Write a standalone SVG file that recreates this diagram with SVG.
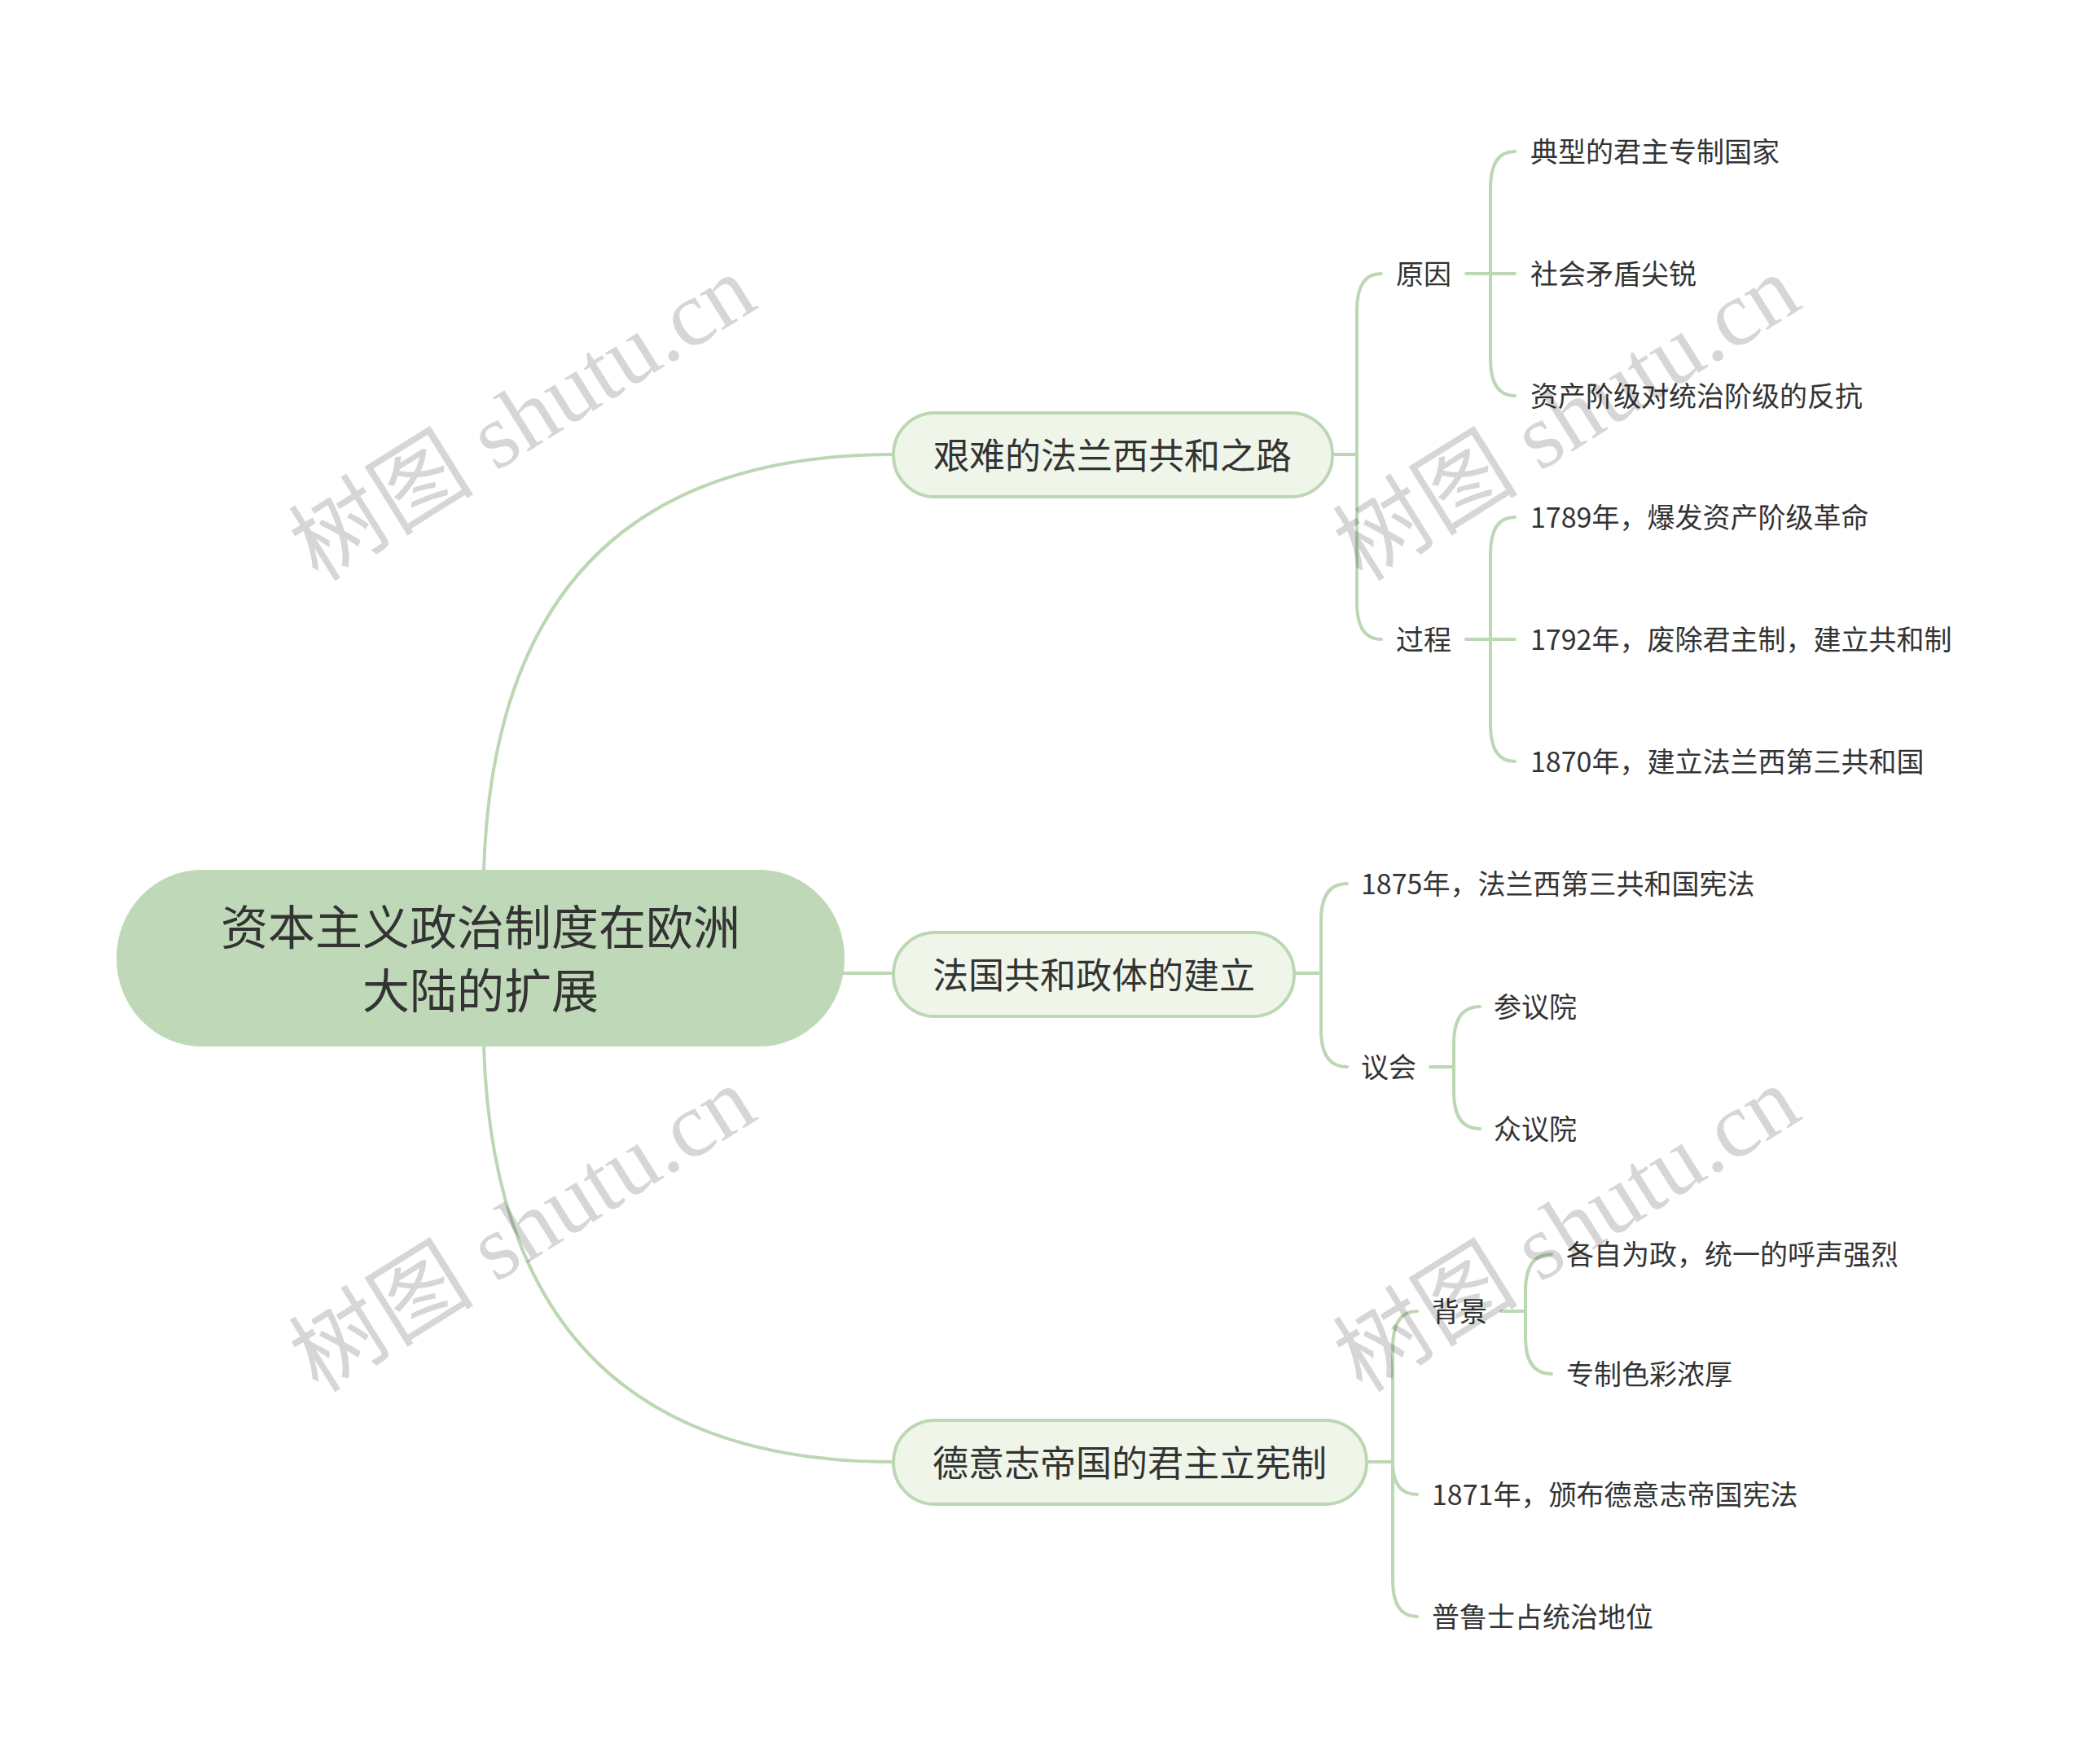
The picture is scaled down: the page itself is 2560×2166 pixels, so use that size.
<svg xmlns="http://www.w3.org/2000/svg" width="2560" height="2166" viewBox="0 0 2560 2166">
<style>
text{font-family:"Noto Sans CJK SC","Noto Sans",sans-serif;fill:#333;dominant-baseline:central}
.root{font-size:58px}
.br{font-size:44px;text-anchor:middle}
.lf{font-size:34px}
.ln{fill:none;stroke:#bcd7b3;stroke-width:4;stroke-linecap:round}
.box{fill:#eff6e9;stroke:#bcd7b3;stroke-width:4}
.wm{font-family:"Liberation Serif","Noto Sans CJK SC",serif;font-size:114px;fill:#000;fill-opacity:0.16;dominant-baseline:alphabetic}
</style>
<rect width="2560" height="2166" fill="#fff"/>
<g id="connectors">
<path class="ln" d="M594,1069 Q610,558 1097,558"/>
<path class="ln" d="M594,1285 Q610,1795 1097,1795"/>
<path class="ln" d="M900,1195 H1097"/>
<path class="ln" d="M1636,558 H1666 M1666,558 V381 Q1666,336 1696,336 M1666,558 V740 Q1666,785 1696,785"/>
<path class="ln" d="M1800,336 H1860 M1830,336 V231 Q1830,186 1860,186 M1830,336 V441 Q1830,486 1860,486"/>
<path class="ln" d="M1800,785 H1860 M1830,785 V680 Q1830,635 1860,635 M1830,785 V890 Q1830,935 1860,935"/>
<path class="ln" d="M1589,1195 H1622 M1622,1195 V1130 Q1622,1085 1654,1085 M1622,1195 V1265 Q1622,1310 1654,1310"/>
<path class="ln" d="M1756,1310 H1785 M1785,1310 V1281 Q1785,1236 1817,1236 M1785,1310 V1341 Q1785,1386 1817,1386"/>
<path class="ln" d="M1678,1795 H1710 M1710,1795 V1655 Q1710,1610 1740,1610 M1710,1795 Q1710,1835 1740,1835 M1710,1795 V1940 Q1710,1985 1740,1985"/>
<path class="ln" d="M1843,1610 H1873 M1873,1610 V1585 Q1873,1540 1905,1540 M1873,1610 V1642 Q1873,1687 1905,1687"/>
</g>
<g id="root">
<rect x="143" y="1068" width="894" height="217" rx="105" ry="108" fill="#bfd9b8"/>
<text class="root" x="590" y="1135" text-anchor="middle">资本主义政治制度在欧洲</text>
<text class="root" x="590" y="1213" text-anchor="middle">大陆的扩展</text>
</g>
<g id="b1">
<rect class="box" x="1097" y="507" width="539" height="103" rx="51"/>
<text class="br" x="1366" y="557">艰难的法兰西共和之路</text>
</g>
<g id="b2">
<rect class="box" x="1097" y="1145" width="492" height="103" rx="51"/>
<text class="br" x="1343" y="1195">法国共和政体的建立</text>
</g>
<g id="b3">
<rect class="box" x="1097" y="1744" width="581" height="103" rx="51"/>
<text class="br" x="1387" y="1794">德意志帝国的君主立宪制</text>
</g>
<g id="n-yuanyin"><text class="lf" x="1714" y="334">原因</text></g>
<g id="n-c1"><text class="lf" x="1879" y="184">典型的君主专制国家</text></g>
<g id="n-c2"><text class="lf" x="1879" y="334">社会矛盾尖锐</text></g>
<g id="n-c3"><text class="lf" x="1879" y="484">资产阶级对统治阶级的反抗</text></g>
<g id="n-guocheng"><text class="lf" x="1714" y="783">过程</text></g>
<g id="n-p1"><text class="lf" x="1879" y="633">1789年，爆发资产阶级革命</text></g>
<g id="n-p2"><text class="lf" x="1879" y="783">1792年，废除君主制，建立共和制</text></g>
<g id="n-p3"><text class="lf" x="1879" y="933">1870年，建立法兰西第三共和国</text></g>
<g id="n-1875"><text class="lf" x="1671" y="1083">1875年，法兰西第三共和国宪法</text></g>
<g id="n-yihui"><text class="lf" x="1671" y="1308">议会</text></g>
<g id="n-cyy"><text class="lf" x="1834" y="1234">参议院</text></g>
<g id="n-zyy"><text class="lf" x="1834" y="1384">众议院</text></g>
<g id="n-beijing"><text class="lf" x="1758" y="1608">背景</text></g>
<g id="n-bj1"><text class="lf" x="1923" y="1538">各自为政，统一的呼声强烈</text></g>
<g id="n-bj2"><text class="lf" x="1923" y="1685">专制色彩浓厚</text></g>
<g id="n-1871"><text class="lf" x="1758" y="1833">1871年，颁布德意志帝国宪法</text></g>
<g id="n-pls"><text class="lf" x="1758" y="1983">普鲁士占统治地位</text></g>
<g id="watermarks">
<text class="wm" transform="translate(662,546) rotate(-32)" text-anchor="middle">树图 shutu.cn</text>
<text class="wm" transform="translate(1944,546) rotate(-32)" text-anchor="middle">树图 shutu.cn</text>
<text class="wm" transform="translate(662,1542) rotate(-32)" text-anchor="middle">树图 shutu.cn</text>
<text class="wm" transform="translate(1944,1542) rotate(-32)" text-anchor="middle">树图 shutu.cn</text>
</g>
</svg>
